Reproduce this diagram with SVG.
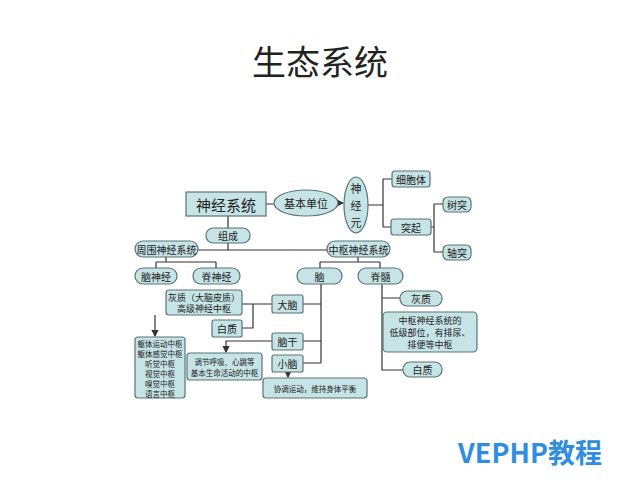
<svg xmlns="http://www.w3.org/2000/svg" width="640" height="480" viewBox="0 0 640 480">
<style>
.b{fill:#c6e3e5;stroke:#5a7479;stroke-width:1.2}
.t{font-family:"Noto Sans CJK SC",sans-serif;fill:#222;text-anchor:middle;dominant-baseline:central;font-size:10px}
.s{font-size:7.5px}
.c{fill:none;stroke:#333;stroke-width:1.2}
</style>
<defs><marker id="a" markerWidth="6" markerHeight="6" refX="5" refY="3" orient="auto"><path d="M0,0L6,3L0,6z" fill="#333"/></marker></defs>
<rect width="640" height="480" fill="#fff"/>
<text x="320" y="60" class="t" style="font-size:34px;font-family:'Noto Sans CJK SC',serif">生态系统</text>
<g id="connectors" class="c">
<path d="M266,204H274M338,203H343" marker-end="url(#a)"/>
<path d="M368,205H383M383,179V227M383,179H392M383,227H391"/>
<path d="M431,227H434M434,204V252M434,204H443M434,252H443"/>
<path d="M228,216V250M198,250H327"/>
<path d="M166,257V262M156,262H216M156,262V268M216,262V268"/>
<path d="M358,257V262M320,262H380M320,262V268M380,262V268"/>
<path d="M321,283V363M303,304H321M303,341H321M303,363H321"/>
<path d="M272,304H242M253,304V328H242"/>
<path d="M155,315V336" marker-end="url(#a)"/>
<path d="M272,341H226V352" marker-end="url(#a)"/>
<path d="M288,372V377" marker-end="url(#a)"/>
<path d="M382,283V370H403M382,298H400"/>
</g>
<g id="n1"><rect class="b" x="186" y="192" width="80" height="24"/><text class="t" x="226" y="204" style="font-size:15px">神经系统</text></g>
<g id="n2"><ellipse class="b" cx="306" cy="203" rx="32" ry="13"/><text class="t" x="306" y="203" style="font-size:11px">基本单位</text></g>
<g id="n3"><ellipse class="b" cx="356" cy="205" rx="12" ry="28"/><text class="t" x="356" y="188" style="font-size:11px">神</text><text class="t" x="356" y="205" style="font-size:11px">经</text><text class="t" x="356" y="222" style="font-size:11px">元</text></g>
<g id="n4"><rect class="b" x="392" y="171" width="38" height="16" rx="3"/><text class="t" x="411" y="179">细胞体</text></g>
<g id="n5"><rect class="b" x="391" y="219" width="40" height="16" rx="3"/><text class="t" x="411" y="227">突起</text></g>
<g id="n6"><rect class="b" x="443" y="197" width="28" height="15" rx="5"/><text class="t" x="457" y="204.5">树突</text></g>
<g id="n7"><rect class="b" x="443" y="245" width="28" height="15" rx="5"/><text class="t" x="457" y="252.5">轴突</text></g>
<g id="n8"><rect class="b" x="206" y="228" width="44" height="15" rx="7"/><text class="t" x="228" y="235.5">组成</text></g>
<g id="n9"><rect class="b" x="135" y="241" width="63" height="16" rx="8"/><text class="t" x="166.5" y="249">周围神经系统</text></g>
<g id="n10"><rect class="b" x="327" y="241" width="63" height="16" rx="8"/><text class="t" x="358.5" y="249">中枢神经系统</text></g>
<g id="n11"><rect class="b" x="135" y="268" width="42" height="16" rx="8"/><text class="t" x="156" y="276">脑神经</text></g>
<g id="n12"><rect class="b" x="193" y="268" width="47" height="16" rx="8"/><text class="t" x="216.5" y="276">脊神经</text></g>
<g id="n13"><rect class="b" x="297" y="268" width="45" height="16" rx="8"/><text class="t" x="319.5" y="276">脑</text></g>
<g id="n14"><rect class="b" x="358" y="268" width="45" height="16" rx="8"/><text class="t" x="380.5" y="276">脊髓</text></g>
<g id="n15"><rect class="b" x="166" y="290" width="76" height="25" rx="3"/><text class="t" x="204" y="297" style="font-size:9px">灰质（大脑皮质）</text><text class="t" x="204" y="308.5" style="font-size:9px">高级神经中枢</text></g>
<g id="n16"><rect class="b" x="272" y="295" width="31" height="18" rx="2"/><text class="t" x="287.5" y="304">大脑</text></g>
<g id="n17"><rect class="b" x="212" y="320" width="30" height="17" rx="2"/><text class="t" x="227" y="328.5">白质</text></g>
<g id="n18"><rect class="b" x="272" y="333" width="31" height="17" rx="2"/><text class="t" x="287.5" y="341.5">脑干</text></g>
<g id="n19"><rect class="b" x="272" y="355" width="31" height="17" rx="2"/><text class="t" x="287.5" y="363.5">小脑</text></g>
<g id="n20"><rect class="b" x="135" y="337" width="50" height="61" rx="3"/><text class="t s" x="160" y="343">躯体运动中枢</text><text class="t s" x="160" y="353">躯体感觉中枢</text><text class="t s" x="160" y="363">听觉中枢</text><text class="t s" x="160" y="373">视觉中枢</text><text class="t s" x="160" y="383">嗅觉中枢</text><text class="t s" x="160" y="393">语言中枢</text></g>
<g id="n21"><rect class="b" x="187" y="353" width="75" height="27" rx="3"/><text class="t s" x="224.5" y="361">调节呼吸、心跳等</text><text class="t s" x="224.5" y="372">基本生命活动的中枢</text></g>
<g id="n22"><rect class="b" x="263" y="378" width="104" height="20" rx="3"/><text class="t s" x="315" y="388">协调运动，维持身体平衡</text></g>
<g id="n23"><rect class="b" x="400" y="291" width="42" height="15" rx="7"/><text class="t" x="421" y="298.5">灰质</text></g>
<g id="n24"><rect class="b" x="383" y="312" width="94" height="40" rx="4"/><text class="t" x="430" y="320" style="font-size:9px">中枢神经系统的</text><text class="t" x="430" y="332" style="font-size:9px">低级部位，有排尿、</text><text class="t" x="430" y="344" style="font-size:9px">排便等中枢</text></g>
<g id="n25"><rect class="b" x="403" y="362" width="39" height="15" rx="7"/><text class="t" x="422.5" y="369.5">白质</text></g>
<text x="530" y="451" class="t" style="font-size:27px;font-weight:bold;fill:#2f8ee0;font-family:'Noto Sans CJK SC',sans-serif">VEPHP教程</text>
</svg>
